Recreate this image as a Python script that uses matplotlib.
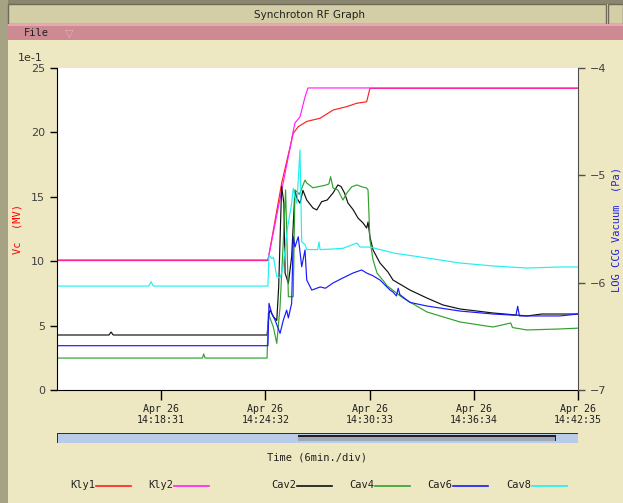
import matplotlib
matplotlib.use('Agg')
from matplotlib import pyplot as plt
from matplotlib.patches import Rectangle
from matplotlib.lines import Line2D

# time axis: minutes after 14:12:30, one division = 6 min 01 s
tick_pos = [6.0167, 12.0333, 18.05, 24.0667, 30.0833]
tick_labels = ['Apr 26\n14:18:31', 'Apr 26\n14:24:32', 'Apr 26\n14:30:33',
               'Apr 26\n14:36:34', 'Apr 26\n14:42:35']

# Kly1 (red)
kly1_t = [0, 12.18, 12.97, 13.64, 13.93, 14.42, 15.19, 15.95, 16.73, 17.3, 17.88, 18.07, 30.08]
kly1_v = [10.05, 10.05, 16.04, 19.93, 20.44, 20.85, 21.1, 21.74, 22.0, 22.26, 22.38, 23.42, 23.42]

# Kly2 (magenta)
kly2_t = [0, 12.18, 13.55, 13.57, 13.74, 14.03, 14.32, 14.49, 30.08]
kly2_v = [10.1, 10.1, 19.41, 19.64, 20.73, 21.2, 22.75, 23.45, 23.45]

# Cav2 (black)
cav2_t = [0, 3.0, 3.12, 3.25, 12.13, 12.24, 12.3, 12.49, 12.69, 12.8, 12.97, 13.1, 13.17,
          13.36, 13.55, 13.74, 13.85, 14.03, 14.2, 14.42, 14.78, 15.0, 15.28, 15.6, 15.94,
          16.22, 16.4, 16.6, 16.8, 17.1, 17.38, 17.67, 17.88, 17.96, 18.07, 18.25, 18.65,
          19.11, 19.4, 20.38, 21.36, 22.29, 23.27, 25.17, 27.14, 28.0, 29.04, 30.08]
cav2_v = [4.27, 4.27, 4.5, 4.27, 4.27, 5.9, 6.2, 5.7, 5.4, 8.0, 15.8, 14.5, 9.08,
          8.28, 10.35, 15.5, 14.9, 14.5, 15.5, 14.75, 14.13, 13.98, 14.62, 14.75, 15.3,
          15.92, 15.8, 15.3, 14.52, 14.0, 13.35, 12.97, 12.58, 13.04, 11.88, 10.87, 9.86,
          9.16, 8.54, 7.76, 7.14, 6.6, 6.29, 5.98, 5.75, 5.9, 5.9, 5.9]

# Cav4 (green)
cav4_t = [0, 8.4, 8.47, 8.55, 12.13, 12.2, 12.49, 12.69, 12.88, 13.07, 13.2, 13.36, 13.64,
          13.74, 14.0, 14.32, 14.42, 14.78, 15.13, 15.5, 15.7, 15.8, 15.94, 16.22, 16.51,
          16.74, 17.02, 17.32, 17.59, 17.88, 17.96, 18.07, 18.25, 18.48, 18.94, 19.05, 19.98,
          21.36, 23.27, 25.17, 26.2, 26.3, 27.14, 29.04, 30.08]
cav4_v = [2.48, 2.48, 2.8, 2.48, 2.48, 5.95, 4.9, 3.62, 6.47, 11.65, 15.53, 7.24, 7.24,
          15.53, 15.2, 16.3, 16.07, 15.7, 15.8, 15.9, 16.0, 16.56, 15.68, 15.53, 14.75,
          15.3, 15.78, 15.92, 15.78, 15.68, 15.53, 11.65, 10.09, 9.08, 8.31, 8.1, 7.14,
          6.06, 5.28, 4.89, 5.2, 4.85, 4.66, 4.74, 4.8]

# Cav6 (blue)
cav6_t = [0, 12.18, 12.24, 12.4, 12.59, 12.88, 13.07, 13.26, 13.36, 13.55, 13.64, 13.74,
          13.93, 14.13, 14.32, 14.42, 14.71, 15.2, 15.5, 15.94, 16.51, 17.09, 17.59, 17.88,
          18.2, 18.65, 19.23, 19.4, 19.6, 19.7, 19.8, 20.38, 21.36, 23.27, 25.17, 26.5, 26.6,
          26.7, 27.14, 29.04, 30.08]
cav6_v = [3.44, 3.44, 6.73, 5.95, 5.43, 4.4, 5.43, 6.2, 5.6, 6.73, 11.9, 11.1,
          11.9, 9.57, 10.87, 8.54, 7.76, 8.0, 7.9, 8.31, 8.7, 9.08, 9.32, 9.08,
          8.9, 8.54, 7.76, 7.61, 7.3, 7.9, 7.4, 6.8, 6.52, 6.13, 5.9, 5.8, 6.5,
          5.75, 5.75, 5.75, 5.9]

# Cav8 (cyan)
cav8_t = [0, 5.3, 5.43, 5.56, 12.18, 12.24, 12.4, 12.5, 12.69, 12.88, 13.05, 13.3, 13.55,
          13.64, 13.74, 13.85, 14.03, 14.13, 14.32, 14.42, 14.78, 15.05, 15.13, 15.19, 15.94,
          16.51, 17.32, 17.5, 18.07, 19.23, 19.4, 21.36, 23.27, 25.17, 27.14, 29.04, 30.08]
cav8_v = [8.07, 8.07, 8.4, 8.07, 8.07, 10.48, 10.2, 10.3, 8.8, 8.7, 9.5, 12.5, 14.5,
          15.66, 15.0, 14.5, 18.63, 11.5, 11.3, 10.9, 10.9, 10.9, 11.5, 10.9, 10.95,
          11.0, 11.41, 11.1, 11.1, 10.71, 10.64, 10.25, 9.86, 9.63, 9.47, 9.55, 9.55]

series = [('Kly1', kly1_t, kly1_v, '#ff2020'),
          ('Kly2', kly2_t, kly2_v, '#ff20ff'),
          ('Cav2', cav2_t, cav2_v, '#101010'),
          ('Cav4', cav4_t, cav4_v, '#30a030'),
          ('Cav6', cav6_t, cav6_v, '#1818ff'),
          ('Cav8', cav8_t, cav8_v, '#20f0f0')]

W, H = 623, 503
body = '#eee8c2'
fig = plt.figure(figsize=(W / 100, H / 100), dpi=100, facecolor=body)

def px_rect(x0, y0, x1, y1, **kw):
    # rectangle given in pixel coords from the top left corner
    fig.add_artist(Rectangle((x0 / W, 1 - y1 / H), (x1 - x0) / W, (y1 - y0) / H,
                             transform=fig.transFigure, **kw))

# window frame, title bar and menu bar
px_rect(0, 0, W, 4, facecolor='#8a8670', edgecolor='none')
px_rect(0, 0, 8, H, facecolor='#a6a284', edgecolor='none')
px_rect(8, 4, 606, 24, facecolor='#d4cea6', edgecolor='#6e6a58', linewidth=1)
px_rect(608, 4, W, 24, facecolor='#d4cea6', edgecolor='#6e6a58', linewidth=1)
px_rect(8, 24, W, 40, facecolor='#cd8a92', edgecolor='none')
px_rect(8, 24, W, 26, facecolor='#e8a8b0', edgecolor='none')
fig.text(310 / W, 1 - 15 / H, 'Synchroton RF Graph', ha='center', va='center',
         fontsize=7.5, color='#202020')
fig.text(24 / W, 1 - 33 / H, 'File', ha='left', va='center', fontsize=7.5,
         family='DejaVu Sans Mono', color='#202020')
fig.text(65 / W, 1 - 33 / H, '\u25bd', ha='left', va='center', fontsize=8,
         color='#e8b0b8')

ax = fig.add_axes([57 / W, 1 - 390 / H, 521 / W, 322 / H])
ax.set_facecolor('white')
for name, t, v, c in series:
    ax.plot(t, v, color=c, linewidth=0.85)

ax.set_xlim(0, 30.0833)
ax.set_ylim(0, 25)
ax.set_yticks([0, 5, 10, 15, 20, 25])
ax.set_xticks(tick_pos)
ax.set_xticklabels(tick_labels, family='DejaVu Sans Mono', fontsize=7.2,
                   linespacing=1.2, color='#202020')
ax.tick_params(axis='y', labelsize=8, labelcolor='#404040', length=5, width=1)
ax.tick_params(axis='x', length=7, width=1, pad=3)
ax.spines['top'].set_visible(False)
ax.spines['right'].set_visible(False)
ax.set_ylabel('Vc  (MV)', color='red', fontsize=7.5, family='DejaVu Sans Mono',
              labelpad=6)
ax.text(-0.075, 1.015, '1e-1', transform=ax.transAxes, fontsize=8, color='#303030',
        ha='left', va='bottom')

ax2 = ax.twinx()
ax2.set_ylim(-7, -4)
ax2.set_yticks([-7, -6, -5, -4])
ax2.tick_params(axis='y', labelsize=8, labelcolor='#404040', length=5, width=1,
                color='#505050')
for s in ['top', 'left', 'bottom']:
    ax2.spines[s].set_visible(False)
ax2.spines['right'].set_color('#505050')
ax2.set_ylabel('LOG CCG Vacuum  (Pa)', color='#2020e0', fontsize=7.5,
               family='DejaVu Sans Mono', rotation=90, labelpad=4)

# scroll bar under the time axis
px_rect(57, 433, 578, 443, facecolor='#b8cce8', edgecolor='none')
px_rect(57, 433, 578, 434, facecolor='#303030', edgecolor='none')
px_rect(57, 433, 58, 443, facecolor='#303030', edgecolor='none')
px_rect(298, 435, 556, 441, facecolor='#a0a8b8', edgecolor='none')
px_rect(298, 435, 556, 436.5, facecolor='#202020', edgecolor='none')
px_rect(554.5, 435, 556, 441, facecolor='#202020', edgecolor='none')

fig.text(317 / W, 1 - 457 / H, 'Time (6min./div)', ha='center', va='center',
         fontsize=7.5, family='DejaVu Sans Mono', color='#202020')

# legend row
leg_x = [70, 148, 271, 349, 427, 506]
for (name, t, v, c), x0 in zip(series, leg_x):
    fig.text(x0 / W, 1 - 485 / H, name, ha='left', va='center', fontsize=7.5,
             family='DejaVu Sans Mono', color='#202020')
    fig.add_artist(Line2D([(x0 + 26) / W, (x0 + 61) / W], [1 - 486 / H, 1 - 486 / H],
                          color=c, linewidth=1.2, transform=fig.transFigure))

fig.savefig('out.png', dpi=100, facecolor=body)
